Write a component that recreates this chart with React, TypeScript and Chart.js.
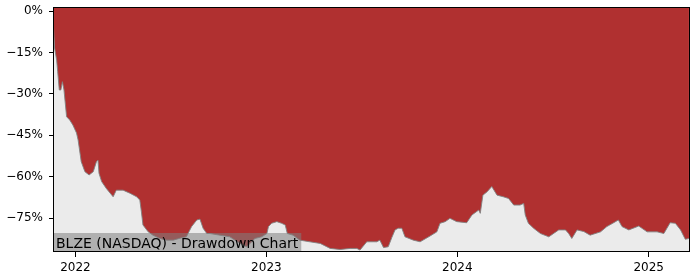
import React, { useEffect, useRef } from 'react';
import { Chart, registerables } from 'chart.js';

Chart.register(...registerables);

const dates = [
  '2021-11-19', '2021-11-20', '2021-11-22', '2021-11-26', '2021-11-28', '2021-12-01', '2021-12-04', '2021-12-07',
  '2021-12-10', '2021-12-15', '2021-12-21', '2021-12-27', '2022-01-03', '2022-01-06', '2022-01-12', '2022-01-19',
  '2022-01-27', '2022-02-04', '2022-02-10', '2022-02-13', '2022-02-15', '2022-02-20', '2022-03-01', '2022-03-14',
  '2022-03-20', '2022-04-02', '2022-04-15', '2022-04-28', '2022-05-04', '2022-05-07', '2022-05-10', '2022-05-20',
  '2022-05-29', '2022-06-11', '2022-06-24', '2022-07-07', '2022-07-20', '2022-08-01', '2022-08-11', '2022-08-21',
  '2022-08-27', '2022-09-02', '2022-09-09', '2022-09-15', '2022-10-04', '2022-10-23', '2022-11-11', '2022-11-24',
  '2022-12-01', '2022-12-10', '2022-12-23', '2023-01-02', '2023-01-05', '2023-01-11', '2023-01-21', '2023-01-30',
  '2023-02-06', '2023-02-10', '2023-02-21', '2023-03-06', '2023-03-25', '2023-04-14', '2023-05-03', '2023-05-22',
  '2023-06-10', '2023-06-23', '2023-06-29', '2023-07-12', '2023-07-25', '2023-07-31', '2023-08-06', '2023-08-13',
  '2023-08-22', '2023-08-29', '2023-09-04', '2023-09-10', '2023-09-17', '2023-09-23', '2023-10-09', '2023-10-22',
  '2023-11-10', '2023-11-23', '2023-11-29', '2023-12-09', '2023-12-18', '2023-12-31', '2024-01-19', '2024-01-29',
  '2024-02-11', '2024-02-14', '2024-02-19', '2024-02-27', '2024-03-07', '2024-03-17', '2024-03-29', '2024-04-08',
  '2024-04-18', '2024-04-30', '2024-05-07', '2024-05-10', '2024-05-16', '2024-05-26', '2024-06-08', '2024-06-24',
  '2024-07-13', '2024-07-26', '2024-08-01', '2024-08-07', '2024-08-17', '2024-08-30', '2024-09-11', '2024-10-01',
  '2024-10-13', '2024-10-26', '2024-11-04', '2024-11-11', '2024-11-24', '2024-12-13', '2024-12-29', '2025-01-17',
  '2025-01-30', '2025-02-11', '2025-02-21', '2025-03-03', '2025-03-12', '2025-03-19',
];

const drawdown = [
  0, -5.8, -13.4, -17.8, -22, -28.6, -28.6, -25.6,
  -28.6, -38.3, -39.5, -41.3, -44.2, -46.7, -54.6, -58.2,
  -59.4, -58.2, -54.6, -54, -58.8, -61.8, -64.3, -67.3,
  -64.9, -64.9, -66, -67.3, -68.5, -72.7, -77.5, -80,
  -81.2, -82.4, -83, -83, -82.3, -81.8, -78.1, -75.7,
  -75.4, -78.7, -80.6, -80.6, -81.2, -81.8, -84.1, -85.4,
  -84.2, -82.4, -81.8, -80.6, -78.1, -76.9, -76.3, -76.9,
  -77.5, -80.6, -81.2, -83, -83.6, -84.2, -86, -86.4,
  -86, -86, -86.6, -83.6, -83.6, -83.6, -83, -85.7,
  -85.4, -82, -79.3, -78.7, -78.7, -81.8, -83, -83.6,
  -81.5, -80, -76.9, -76.3, -75.1, -76.3, -76.7, -73.9,
  -72.1, -73.3, -66.7, -65.5, -63.6, -66.7, -67.3, -67.9,
  -70.3, -70.3, -69.7, -73.9, -76.9, -78.7, -80.6, -81.8,
  -79.3, -79.3, -80.6, -82.4, -79.3, -79.9, -81.2, -80,
  -78.1, -76.7, -75.7, -78.1, -79.3, -77.9, -80, -80,
  -80.6, -76.7, -76.9, -79.3, -82.7, -82.4,
];

const yTicks = [0, -15, -30, -45, -60, -75];
const xTickYears = [2022, 2023, 2024, 2025];
const xStart = '2021-11-19';
const xEnd = '2025-03-21';
const yMin = -87.3;
const yMax = 1.45;
const chartLabel = 'BLZE (NASDAQ) - Drawdown Chart';

const RED = 'rgb(176, 48, 48)';
const BG = '#ebebeb';
const FONT = 'DejaVu Sans';

const decorPlugin = {
  id: 'decor',
  beforeDraw(chart: any) {
    const { ctx, chartArea: a } = chart;
    ctx.save();
    ctx.fillStyle = BG;
    ctx.fillRect(a.left, a.top, a.right - a.left, a.bottom - a.top);
    ctx.restore();
  },
  afterDraw(chart: any) {
    const { ctx, chartArea: a } = chart;
    ctx.save();
    ctx.font = `14px "${FONT}"`;
    const w = ctx.measureText(chartLabel).width;
    ctx.fillStyle = 'rgba(128,128,128,0.55)';
    ctx.fillRect(a.left, a.bottom - 19, w + 6, 19);
    ctx.fillStyle = '#000';
    ctx.textBaseline = 'alphabetic';
    ctx.textAlign = 'left';
    ctx.fillText(chartLabel, a.left + 3, a.bottom - 4);
    ctx.strokeStyle = '#000';
    ctx.lineWidth = 1;
    ctx.strokeRect(a.left + 0.5, a.top + 0.5, a.right - a.left - 1, a.bottom - a.top - 1);
    ctx.restore();
  },
};

export default function App() {
  const ref = useRef<HTMLCanvasElement>(null);
  useEffect(() => {
    document.body.style.margin = '0';
    const points = dates.map((d, i) => ({ x: Date.parse(d), y: drawdown[i] }));
    const chart = new Chart(ref.current as HTMLCanvasElement, {
      type: 'line',
      data: {
        datasets: [
          {
            data: points,
            borderColor: 'rgba(130,130,130,0.9)',
            borderWidth: 1,
            backgroundColor: RED,
            fill: 'end',
            pointRadius: 0,
            tension: 0,
          },
        ],
      },
      options: {
        animation: false,
        responsive: false,
        maintainAspectRatio: false,
        layout: { padding: { top: 7, right: 10, left: 0, bottom: 0 } },
        plugins: { legend: { display: false }, tooltip: { enabled: false } },
        scales: {
          x: {
            type: 'linear',
            min: Date.parse(xStart),
            max: Date.parse(xEnd),
            afterBuildTicks: (s: any) => {
              s.ticks = xTickYears.map((y) => ({ value: Date.UTC(y, 0, 1) }));
            },
            afterFit: (s: any) => {
              s.height = 28;
              s.paddingLeft = 0;
              s.paddingRight = 0;
            },
            ticks: {
              callback: (v: any) => String(new Date(Number(v)).getUTCFullYear()),
              font: { family: FONT, size: 12 },
              color: '#000',
              padding: 4,
              maxRotation: 0,
              autoSkip: false,
            },
            grid: { drawOnChartArea: false, tickLength: 5, color: '#000', tickColor: '#000' },
            border: { display: false },
          },
          y: {
            type: 'linear',
            min: yMin,
            max: yMax,
            afterBuildTicks: (s: any) => {
              s.ticks = yTicks.map((v) => ({ value: v }));
            },
            afterFit: (s: any) => {
              s.width = 53;
              s.paddingTop = 0;
              s.paddingBottom = 0;
            },
            ticks: {
              callback: (v: any) => (Number(v) === 0 ? '0%' : '\u2212' + Math.abs(Number(v)) + '%'),
              font: { family: FONT, size: 12 },
              color: '#000',
              padding: 6,
              autoSkip: false,
            },
            grid: { drawOnChartArea: false, tickLength: 4, color: '#000', tickColor: '#000' },
            border: { display: false },
          },
        },
      },
      plugins: [decorPlugin],
    });
    return () => chart.destroy();
  }, []);
  return (
    <div style={{ width: 700, height: 280, background: '#fff' }}>
      <canvas ref={ref} width={700} height={280} style={{ display: 'block' }} />
    </div>
  );
}
